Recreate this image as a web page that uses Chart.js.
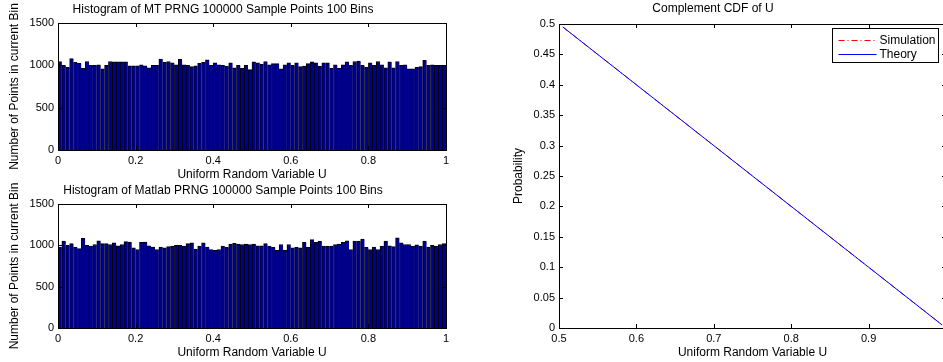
<!DOCTYPE html>
<html>
<head>
<meta charset="utf-8">
<script src="https://cdn.jsdelivr.net/npm/chart.js@4/dist/chart.umd.min.js"></script>
<style>
    html, body { margin: 0; padding: 0; background: #fff; }
    body { width: 943px; height: 362px; overflow: hidden; position: relative; }
    canvas { position: absolute; }
</style>
</head>
<body>
<canvas id="mt_hist" width="470" height="190" style="left:0;top:0"></canvas>
<canvas id="ml_hist" width="470" height="182" style="left:0;top:180px"></canvas>
<canvas id="ccdf_chart" width="480" height="362" style="left:480px;top:0"></canvas>
<script>

// Histogram data - 100 bins over [0, 1]

var mt_counts = [
    1045, 1000, 975, 1080, 1035, 1025, 965, 1045, 1000, 1000,
    1005, 960, 1000, 1045, 1040, 1040, 1040, 1040, 995, 995,
    995, 1005, 995, 970, 1000, 1000, 1075, 1035, 1045, 1030,
    1005, 1070, 1005, 1000, 985, 995, 1025, 1035, 1065, 1000,
    1030, 1005, 1000, 990, 1030, 970, 1000, 965, 1000, 950,
    1040, 1030, 1015, 1045, 1005, 1020, 1020, 960, 1005, 1030,
    1000, 1030, 985, 990, 1020, 1040, 1030, 990, 1030, 1030,
    965, 1005, 965, 1005, 1040, 1000, 1045, 1050, 1000, 975,
    1030, 1000, 1045, 1005, 970, 1040, 970, 1045, 1000, 1005,
    960, 960, 975, 985, 1060, 1000, 1005, 1000, 1000, 1000];

var matlab_counts = [
    980, 1050, 1000, 1020, 980, 960, 1085, 1000, 990, 1010,
    1055, 1020, 1020, 1010, 1030, 995, 1010, 1045, 1040, 970,
    950, 1035, 1040, 995, 980, 950, 980, 970, 985, 990,
    1000, 1000, 990, 1020, 1030, 955, 990, 1030, 980, 950,
    940, 950, 990, 975, 1015, 1025, 1015, 1010, 1015, 1010,
    1015, 995, 995, 1020, 990, 975, 940, 1010, 940, 1010,
    970, 975, 970, 1035, 975, 1070, 1035, 1050, 990, 990,
    990, 1010, 1015, 1035, 1055, 950, 1050, 1050, 1075, 975,
    950, 980, 950, 990, 1050, 995, 985, 1090, 1030, 1010,
    1010, 990, 1005, 990, 1050, 980, 1000, 990, 1010, 1020];

var n_bins = 100;
var bin_centers = [];
for (var i = 0; i < n_bins; i++) { bin_centers.push((i + 0.5) / n_bins); }

// Complement CDF

var u_values   = [0.505, 0.6, 0.7, 0.8, 0.9, 0.995];
var sim_prob   = [0.495, 0.4, 0.3, 0.2, 0.1, 0.005];
var theory_prob = [0.495, 0.4, 0.3, 0.2, 0.1, 0.005];

var hist_x_ticks = [0, 0.2, 0.4, 0.6, 0.8, 1];


Chart.defaults.font.size = 11;
Chart.defaults.font.family = "'Liberation Sans', Arial, sans-serif";
Chart.defaults.color = '#000';
Chart.defaults.animation = false;

var label_font = {size: 12, weight: 'normal'};


// MATLAB style box + inward ticks
var matlabAxes = {
    id: 'matlabAxes',
    afterDatasetsDraw: function(chart) {
        var ctx = chart.ctx, a = chart.chartArea;
        var xs = chart.scales.x, ys = chart.scales.y;
        ctx.save();
        ctx.strokeStyle = '#000';
        ctx.lineWidth = 1;
        ctx.beginPath();
        xs.ticks.forEach(function(t) {
            var px = Math.round(xs.getPixelForValue(t.value)) + 0.5;
            ctx.moveTo(px, a.bottom); ctx.lineTo(px, a.bottom - 4);
            ctx.moveTo(px, a.top); ctx.lineTo(px, a.top + 4);
        });
        ys.ticks.forEach(function(t) {
            var py = Math.round(ys.getPixelForValue(t.value)) + 0.5;
            ctx.moveTo(a.left, py); ctx.lineTo(a.left + 4, py);
            ctx.moveTo(a.right, py); ctx.lineTo(a.right - 4, py);
        });
        ctx.stroke();
        ctx.strokeRect(Math.round(a.left) + 0.5, Math.round(a.top) + 0.5,
                       Math.round(a.right - a.left), Math.round(a.bottom - a.top));
        ctx.restore();
    }
};

// boxed legend inside the plot, top right
var boxLegend = {
    id: 'boxLegend',
    afterDraw: function(chart) {
        var ctx = chart.ctx, a = chart.chartArea;
        var w = 106, h = 34;
        var x0 = Math.round(a.right - 8 - w) + 0.5, y0 = Math.round(a.top + 4) + 0.5;
        ctx.save();
        ctx.fillStyle = '#fff';
        ctx.fillRect(x0, y0, w, h);
        ctx.strokeStyle = '#000';
        ctx.lineWidth = 1;
        ctx.strokeRect(x0, y0, w, h);
        ctx.font = "12px 'Liberation Sans', Arial, sans-serif";
        ctx.textBaseline = 'middle';
        chart.data.datasets.forEach(function(ds, i) {
            var yy = Math.round(y0 + 11 + i * 14) + 0.5;
            ctx.strokeStyle = ds.borderColor;
            ctx.setLineDash(ds.borderDash || []);
            ctx.beginPath();
            ctx.moveTo(x0 + 6, yy); ctx.lineTo(x0 + 44, yy);
            ctx.stroke();
            ctx.setLineDash([]);
            ctx.fillStyle = '#000';
            ctx.fillText(ds.label, x0 + 47, yy);
        });
        ctx.restore();
    }
};


function makeHist(id, title_text, counts, title_pad, x_height, x_title_pad) {

    return new Chart(document.getElementById(id), {
        type: 'bar',
        data: {
            datasets: [{
                data: counts.map(function(c, i) { return {x: bin_centers[i], y: c}; }),
                backgroundColor: '#00008f',
                borderColor: '#000',
                borderWidth: {top: 1, left: 1, right: 0, bottom: 0},
                borderSkipped: false,
                barPercentage: 1,
                categoryPercentage: 1,},],
        },
        options: {
            responsive: false,
            layout: { padding: {left: 0, right: 24, top: 0, bottom: 0}},
            plugins: {
                legend: { display: false,},
                tooltip: { enabled: false,},
                title: {
                    display: true,
                    text: title_text,
                    color: '#000',
                    font: label_font,
                    padding: title_pad,},},
            scales: {
                x: {
                    type: 'linear', min: 0, max: 1, offset: false,
                    grid: { display: false, drawTicks: false,},
                    border: { display: false,},
                    ticks: {
                        padding: 4, maxRotation: 0, autoSkip: false,
                        callback: function(v) { return String(+v.toFixed(1)); },},
                    afterBuildTicks: function(s) {
                        s.ticks = hist_x_ticks.map(function(v) { return {value: v}; });},
                    title: { display: true, text: 'Uniform Random Variable U', font: label_font,
                             padding: {top: 0, bottom: x_title_pad},},
                    afterFit: function(s) { s.height = x_height; },},
                y: {
                    min: 0, max: 1500,
                    grid: { display: false, drawTicks: false,},
                    border: { display: false,},
                    ticks: { stepSize: 500, padding: 4, callback: function(v) { return String(v); },},
                    title: { display: true, text: 'Number of Points in current Bin', font: label_font,
                             padding: {top: 7.8, bottom: 0},},
                    afterFit: function(s) { s.width = 58; },},},
        },
        plugins: [matlabAxes],
    });
}

makeHist('mt_hist', 'Histogram of MT PRNG 100000 Sample Points 100 Bins', mt_counts,
         {top: 2.3, bottom: 6.3}, 40, 7.8);
makeHist('ml_hist', 'Histogram of Matlab PRNG 100000 Sample Points 100 Bins', matlab_counts,
         {top: 3.3, bottom: 6.3}, 34, 1.8);


// Complement CDF of U

var ccdf_chart = new Chart(document.getElementById('ccdf_chart'), {
    type: 'line',
    data: {
        datasets: [{
            label: 'Simulation',
            data: u_values.map(function(u, i) { return {x: u, y: sim_prob[i]}; }),
            borderColor: '#ff0000',
            borderWidth: 1,
            borderDash: [6, 3, 1, 3],
            pointRadius: 0,
            order: 1,},
        {
            label: 'Theory',
            data: u_values.map(function(u, i) { return {x: u, y: theory_prob[i]}; }),
            borderColor: '#0000ff',
            borderWidth: 1,
            pointRadius: 0,
            order: 0,},],
    },
    options: {
        responsive: false,
        layout: { padding: {left: 0, right: 14, top: 0, bottom: 0}},
        plugins: {
            legend: { display: false,},
            tooltip: { enabled: false,},
            title: {
                display: true,
                text: 'Complement CDF of U',
                color: '#000',
                font: label_font,
                padding: {top: 1.8, bottom: 7.8},},},
        scales: {
            x: {
                type: 'linear', min: 0.5, max: 1,
                grid: { display: false, drawTicks: false,},
                border: { display: false,},
                ticks: { stepSize: 0.1, padding: 4, maxRotation: 0,
                    callback: function(v) { return String(+v.toFixed(2)); },},
                title: { display: true, text: 'Uniform Random Variable U', font: label_font,
                         padding: {top: 0, bottom: 1.8},},
                afterFit: function(s) { s.height = 34; },},
            y: {
                min: 0, max: 0.5,
                grid: { display: false, drawTicks: false,},
                border: { display: false,},
                ticks: { stepSize: 0.05, padding: 4,
                    callback: function(v) { return String(+v.toFixed(2)); },},
                title: { display: true, text: 'Probability', font: label_font,
                         padding: {top: 31.8, bottom: 0},},
                afterFit: function(s) { s.width = 79; },},},
    },
    plugins: [matlabAxes, boxLegend],
});

</script>
</body>
</html>
